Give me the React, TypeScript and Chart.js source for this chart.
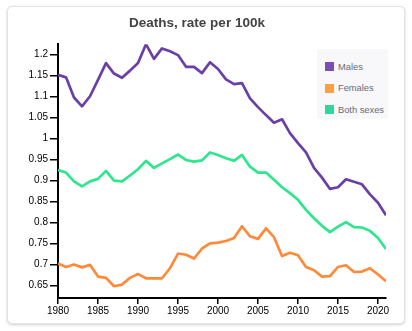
import React, { useEffect, useRef } from "react";
import { Chart, registerables } from "chart.js";

Chart.register(...registerables);

const years: number[] = [
  1980, 1981, 1982, 1983, 1984, 1985, 1986, 1987, 1988, 1989,
  1990, 1991, 1992, 1993, 1994, 1995, 1996, 1997, 1998, 1999,
  2000, 2001, 2002, 2003, 2004, 2005, 2006, 2007, 2008, 2009,
  2010, 2011, 2012, 2013, 2014, 2015, 2016, 2017, 2018, 2019,
  2020, 2021,
];

const males: number[] = [
  1.152, 1.146, 1.098, 1.077, 1.101, 1.14, 1.18, 1.155, 1.145, 1.162,
  1.18, 1.225, 1.19, 1.215, 1.208, 1.199, 1.171, 1.171, 1.156, 1.182,
  1.166, 1.141, 1.13, 1.132, 1.096, 1.075, 1.056, 1.038, 1.046, 1.013,
  0.989, 0.967, 0.93, 0.907, 0.88, 0.884, 0.903, 0.897, 0.891, 0.867,
  0.847, 0.817,
];

const females: number[] = [
  0.702, 0.694, 0.7, 0.693, 0.699, 0.671, 0.668, 0.648, 0.652, 0.668,
  0.677, 0.667, 0.667, 0.667, 0.691, 0.726, 0.723, 0.714, 0.738, 0.75,
  0.752, 0.756, 0.763, 0.791, 0.767, 0.761, 0.786, 0.765, 0.72, 0.728,
  0.722, 0.694, 0.686, 0.671, 0.672, 0.694, 0.698, 0.682, 0.683, 0.691,
  0.676, 0.66,
];

const bothSexes: number[] = [
  0.925, 0.919, 0.898, 0.886, 0.898, 0.904, 0.923, 0.9, 0.898, 0.912,
  0.927, 0.947, 0.93, 0.941, 0.951, 0.962, 0.949, 0.945, 0.948, 0.967,
  0.961, 0.953, 0.947, 0.961, 0.933, 0.919, 0.919, 0.902, 0.884, 0.87,
  0.854, 0.83, 0.81, 0.792, 0.777, 0.79, 0.801, 0.789, 0.788, 0.78,
  0.763, 0.737,
];

const xTickValues: number[] = [1980, 1985, 1990, 1995, 2000, 2005, 2010, 2015, 2020];
const yTickValues: number[] = [0.65, 0.7, 0.75, 0.8, 0.85, 0.9, 0.95, 1, 1.05, 1.1, 1.15, 1.2];

const seriesLabels: string[] = ["Males", "Females", "Both sexes"];
const seriesColors: string[] = ["#6a40a8", "#ff8a3a", "#2ee68c"];
const legendColors: string[] = ["#7a4fb2", "#ffa040", "#2fd89a"];

const titleText = "Deaths, rate per 100k";

export default function App() {
  const canvasRef = useRef<HTMLCanvasElement | null>(null);

  useEffect(() => {
    if (!canvasRef.current) return;
    const seriesValues = [males, females, bothSexes];
    const chart = new Chart(canvasRef.current, {
      type: "line",
      data: {
        datasets: seriesLabels.map((label, i) => ({
          label,
          data: years.map((y, j) => ({ x: y, y: seriesValues[i][j] })),
          borderColor: seriesColors[i],
          backgroundColor: seriesColors[i],
          borderWidth: 2.7,
          pointRadius: 0,
          tension: 0,
          borderJoinStyle: "round" as const,
          fill: false,
        })),
      },
      options: {
        responsive: false,
        animation: false,
        layout: { padding: { left: 0, right: 18, top: 0, bottom: 0 } },
        plugins: {
          legend: { display: false },
          tooltip: { enabled: false },
          title: {
            display: true,
            text: titleText,
            color: "#444",
            font: { family: "'Liberation Sans', Arial, sans-serif", size: 13.5, weight: "bold" },
            padding: { top: 8, bottom: 13 },
          },
        },
        scales: {
          x: {
            type: "linear",
            min: 1980,
            max: 2021,
            afterBuildTicks: (scale: any) => {
              scale.ticks = xTickValues.map((v) => ({ value: v }));
            },
            afterFit: (scale: any) => {
              scale.height = 25;
            },
            ticks: {
              color: "#000",
              padding: 1,
              maxRotation: 0,
              autoSkip: false,
              font: { family: "'Liberation Sans', Arial, sans-serif", size: 10 },
              callback: (v: any) => String(v),
            },
            grid: {
              drawOnChartArea: false,
              drawTicks: true,
              tickLength: 6,
              color: "#000",
              lineWidth: 1.5,
            },
            border: { display: true, color: "#000", width: 2 },
          },
          y: {
            type: "linear",
            min: 0.62,
            max: 1.225,
            afterBuildTicks: (scale: any) => {
              scale.ticks = yTickValues.map((v) => ({ value: v }));
            },
            afterFit: (scale: any) => {
              scale.width = 50;
            },
            ticks: {
              color: "#000",
              padding: 2,
              autoSkip: false,
              font: { family: "'Liberation Sans', Arial, sans-serif", size: 10 },
              callback: (v: any) => String(Number(Number(v).toFixed(3))),
            },
            grid: {
              drawOnChartArea: false,
              drawTicks: true,
              tickLength: 8,
              color: "#000",
              lineWidth: 1.5,
            },
            border: { display: true, color: "#000", width: 2 },
          },
        },
      },
    });
    return () => chart.destroy();
  }, []);

  return (
    <div
      style={{
        position: "absolute",
        left: 7,
        top: 6,
        width: 398,
        height: 318,
        boxSizing: "border-box",
        border: "1px solid #e2e2e2",
        borderRadius: 5,
        boxShadow: "0 1px 3px rgba(0,0,0,0.18)",
        background: "#fff",
        overflow: "hidden",
      }}
    >
      <canvas
        ref={canvasRef}
        width={396}
        height={316}
        style={{ position: "absolute", left: 0, top: 0, display: "block" }}
      />
      <div
        style={{
          position: "absolute",
          left: 309,
          top: 42,
          width: 71,
          height: 70,
          background: "#f8f8fa",
          boxSizing: "border-box",
          paddingTop: 7,
          paddingLeft: 8,
          fontFamily: "'Liberation Sans', Arial, sans-serif",
          fontSize: 9.3,
          color: "#666a78",
        }}
      >
        {seriesLabels.map((label, i) => (
          <div
            key={label}
            style={{ display: "flex", alignItems: "center", height: 21.5, whiteSpace: "nowrap" }}
          >
            <span
              style={{
                display: "inline-block",
                width: 9,
                height: 9,
                background: legendColors[i],
                marginRight: 4,
              }}
            />
            <span>{label}</span>
          </div>
        ))}
      </div>
    </div>
  );
}
